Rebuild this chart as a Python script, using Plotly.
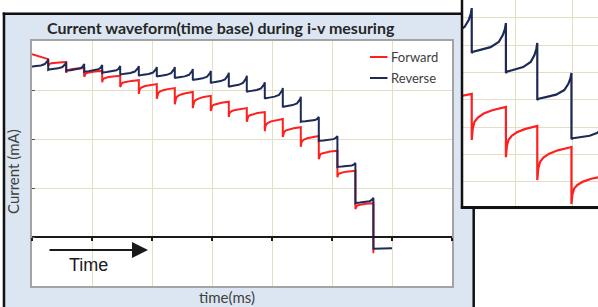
import plotly.graph_objects as go

W, H = 598, 307


def px(x):
    return x / W


def py(y):
    return 1 - y / H


# ---------------- data (main chart) ----------------
STEP_T = [0.0, 0.27, 0.57, 0.87, 1.17, 1.47, 1.78, 2.08, 2.38, 2.68, 2.98,
          3.28, 3.58, 3.88, 4.18, 4.48, 4.78, 5.09, 5.39, 5.69, 6.0]
REV_TROUGH = [3.47, 3.41, 3.39, 3.37, 3.35, 3.31, 3.29, 3.27, 3.24, 3.20,
              3.14, 3.06, 2.96, 2.82, 2.65, 2.35, 1.96, 1.43, 0.69, -0.24]
REV_SPIKE = [3.63, 3.57, 3.53, 3.51, 3.49, 3.49, 3.47, 3.47, 3.43, 3.39,
             3.35, 3.29, 3.16, 3.04, 2.86, 2.45, 2.06, 1.51, 0.80, -0.23]
FWD_DIP = [3.73, 3.49, 3.35, 3.27, 3.16, 3.06, 2.92, 2.82, 2.71, 2.63,
           2.57, 2.45, 2.35, 2.16, 2.04, 1.84, 1.59, 1.22, 0.57]
FWD_END = [3.63, 3.57, 3.45, 3.39, 3.29, 3.20, 3.12, 3.04, 2.96, 2.88,
           2.76, 2.63, 2.55, 2.41, 2.24, 2.06, 1.76, 1.35, 0.69]
FWD_LAST = -0.31

# shape of one step
REV_SHAPE_FRAC = [0.0, 0.04, 0.25, 0.55, 0.79, 0.91, 0.97, 1.0]
REV_SHAPE_W = [0.0, 0.05, 0.11, 0.20, 0.37, 0.60, 0.80, 1.0]
FWD_SHAPE_FRAC = [0.0, 0.03, 0.08, 0.18, 0.35, 0.60, 1.0]
FWD_SHAPE_W = [0.0, 0.35, 0.55, 0.68, 0.80, 0.90, 1.0]

# ---------------- data (inset) ----------------
INSET_T = [-0.39, 0.21, 0.82, 1.38, 1.99, 2.58]
INSET_REV_TROUGH = [6.27, 5.71, 4.98, 3.99, 2.56]
INSET_REV_SPIKE = [7.36, 6.81, 6.08, 4.98, 3.18]
INSET_FWD_DIP = [3.20, 2.53, 1.90, 1.06, 0.18]
INSET_FWD_END = [4.22, 3.74, 3.04, 2.27, 1.21]

TITLE = "Current waveform(time base) during i-v mesuring"
XLABEL = "time(ms)"
YLABEL = "Current (mA)"
SERIES = ["Forward", "Reverse"]

RED = "#ff1f1f"
NAVY = "#1d2a57"
GRID = "#e2dfc4"
BOXBG = "#dce6f2"
FONT = "Lato"


def build(times, low, high, frac, wts, linear_first=False):
    xs, ys = [], []
    for i in range(len(low)):
        t0, t1 = times[i], times[i + 1]
        fr, ww = (frac, wts)
        if linear_first and i == 0:
            fr, ww = [0.0, 1.0], [0.0, 1.0]
        for f, w in zip(fr, ww):
            xs.append(t0 + f * (t1 - t0))
            ys.append(low[i] + w * (high[i] - low[i]))
    return xs, ys


rx, ry = build(STEP_T, REV_TROUGH, REV_SPIKE, REV_SHAPE_FRAC, REV_SHAPE_W)
fx, fy = build(STEP_T, FWD_DIP, FWD_END, FWD_SHAPE_FRAC, FWD_SHAPE_W, linear_first=True)
fx += [STEP_T[len(FWD_DIP)], STEP_T[len(FWD_DIP)] + 0.012]
fy += [FWD_LAST, FWD_LAST]

irx, iry = build(INSET_T, INSET_REV_TROUGH, INSET_REV_SPIKE, REV_SHAPE_FRAC, REV_SHAPE_W)
ifx, ify = build(INSET_T, INSET_FWD_DIP, INSET_FWD_END, FWD_SHAPE_FRAC, FWD_SHAPE_W)

fig = go.Figure()
fig.add_trace(go.Scatter(x=fx, y=fy, mode="lines", name=SERIES[0],
                         line=dict(color=RED, width=2), showlegend=False,
                         xaxis="x", yaxis="y"))
fig.add_trace(go.Scatter(x=rx, y=ry, mode="lines", name=SERIES[1],
                         line=dict(color=NAVY, width=2), showlegend=False,
                         xaxis="x", yaxis="y"))
# carrier for the zero axis
fig.add_trace(go.Scatter(x=[0], y=[0], mode="none", showlegend=False,
                         hoverinfo="skip", xaxis="x2", yaxis="y"))
# inset
fig.add_trace(go.Scatter(x=ifx, y=ify, mode="lines", line=dict(color=RED, width=2.2),
                         showlegend=False, xaxis="x3", yaxis="y3"))
fig.add_trace(go.Scatter(x=irx, y=iry, mode="lines", line=dict(color=NAVY, width=2.2),
                         showlegend=False, xaxis="x3", yaxis="y3"))

xd = [px(32), px(452)]
yd = [py(286), py(41)]
zero_pos = yd[0] + (0 - (-1)) / 5 * (yd[1] - yd[0])

fig.update_layout(
    width=W, height=H,
    margin=dict(l=0, r=0, t=0, b=0),
    paper_bgcolor=BOXBG,
    plot_bgcolor="white",
    xaxis=dict(domain=xd, range=[0, 7], dtick=1, tick0=0, showgrid=True,
               gridcolor=GRID, gridwidth=1, showline=True, mirror=True,
               linecolor="#a3a3a3", linewidth=1.5, ticks="",
               showticklabels=False, zeroline=False, fixedrange=True),
    yaxis=dict(domain=yd, range=[-1, 4], dtick=1, tick0=0, showgrid=True,
               gridcolor=GRID, gridwidth=1, showline=True, mirror=True,
               linecolor="#a3a3a3", linewidth=1.5, ticks="inside", ticklen=3,
               tickcolor="#555555", showticklabels=False, zeroline=False,
               fixedrange=True),
    xaxis2=dict(overlaying="x", range=[0, 7], dtick=1, tick0=0,
                anchor="free", position=zero_pos, showline=True,
                linecolor="#1a1a1a", linewidth=2, ticks="outside", ticklen=3,
                tickwidth=2, tickcolor="#1a1a1a", showgrid=False,
                showticklabels=False, zeroline=False, fixedrange=True),
    xaxis3=dict(domain=[px(463), 1], range=[0.054, 2.464], dtick=1, tick0=0,
                anchor="y3", showgrid=True, gridcolor=GRID, showline=False,
                ticks="", showticklabels=False, zeroline=False, fixedrange=True),
    yaxis3=dict(domain=[py(206), 1], range=[0.11, 7.656], dtick=1, tick0=0,
                anchor="x3", showgrid=True, gridcolor=GRID, showline=False,
                ticks="", showticklabels=False, zeroline=False, fixedrange=True),
    showlegend=False,
)

shapes = []
# white surroundings of the framed chart
for (x0, y0, x1, y1) in [(0, 0, 462, 12.5), (0, 0, 2.7, 307), (475, 209.5, 598, 307)]:
    shapes.append(dict(type="rect", xref="paper", yref="paper",
                       x0=px(x0), x1=px(x1), y0=py(y1), y1=py(y0),
                       fillcolor="white", line=dict(width=0), layer="below"))
# black frames
for (x0, y0, x1, y1, w) in [(2.7, 13.7, 462, 13.7, 2.5), (4, 12.5, 4, 307, 2.5),
                            (473.7, 206, 473.7, 307, 2.5),
                            (462, 0, 462, 208.5, 2.5), (460.8, 207.5, 598, 207.5, 3)]:
    shapes.append(dict(type="line", xref="paper", yref="paper",
                       x0=px(x0), x1=px(x1), y0=py(y0), y1=py(y1),
                       line=dict(color="#111111", width=w), layer="above"))
# legend samples
for yy, col in [(57, RED), (78, NAVY)]:
    shapes.append(dict(type="line", xref="paper", yref="paper",
                       x0=px(370), x1=px(387.5), y0=py(yy), y1=py(yy),
                       line=dict(color=col, width=2), layer="above"))
fig.update_layout(shapes=shapes)

ann = [
    dict(text="<b>" + TITLE + "</b>", x=px(221), y=py(27),
         font=dict(family=FONT, size=16, color="#262626")),
    dict(text=XLABEL, x=px(227), y=py(297),
         font=dict(family=FONT, size=15, color="#404040")),
    dict(text=YLABEL, x=px(13), y=py(172), textangle=-90,
         font=dict(family=FONT, size=15, color="#404040")),
    dict(text=SERIES[0], x=px(388.5), y=py(57), xanchor="left",
         font=dict(family=FONT, size=13, color="#404040")),
    dict(text=SERIES[1], x=px(388.5), y=py(78), xanchor="left",
         font=dict(family=FONT, size=13, color="#404040")),
    dict(text="Time", x=px(88), y=py(265),
         font=dict(family="Liberation Sans", size=18, color="#1a1a1a")),
]
for a in ann:
    a.update(xref="paper", yref="paper", showarrow=False)
    a.setdefault("xanchor", "center")
    a["yanchor"] = "middle"
ann.append(dict(text="", xref="paper", yref="paper", x=px(148), y=py(250),
                ax=-100, ay=0, axref="pixel", ayref="pixel", showarrow=True,
                arrowhead=2, arrowsize=1.6, arrowwidth=2, arrowcolor="#1a1a1a"))
fig.update_layout(annotations=ann)

fig.write_html("out.html",
               config={"displayModeBar": False},
               post_script="document.body.style.margin='0px';"
                           "document.body.style.overflow='hidden';")
